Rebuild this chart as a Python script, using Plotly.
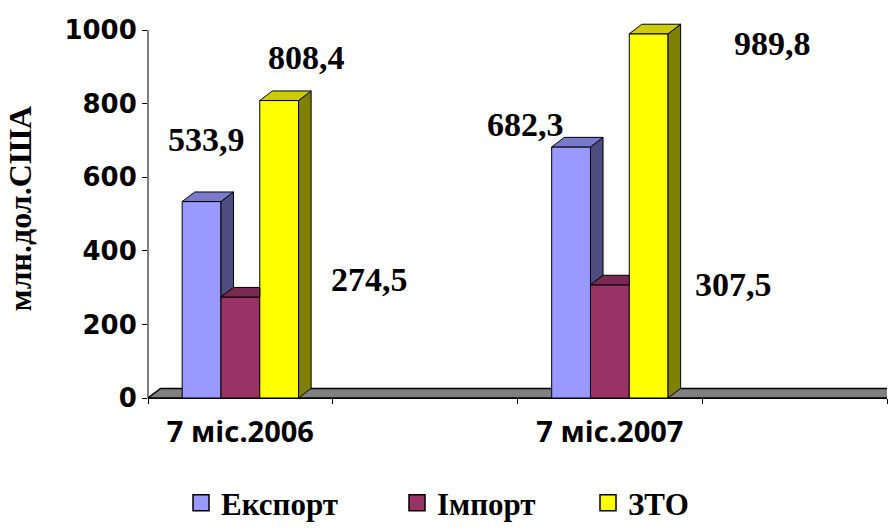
import plotly.graph_objects as go

# ---------------- data ----------------
categories = ["7 міс.2006", "7 міс.2007"]
series_names = ["Експорт", "Імпорт", "ЗТО"]
export_vals = [533.9, 682.3]
import_vals = [274.5, 307.5]
zto_vals = [808.4, 989.8]
label_texts_export = ["533,9", "682,3"]
label_texts_import = ["274,5", "307,5"]
label_texts_zto = ["808,4", "989,8"]
y_tick_vals = [0, 200, 400, 600, 800, 1000]
y_title = "млн.дол.США"

# ---------------- style ----------------
series = [export_vals, import_vals, zto_vals]
label_texts = [label_texts_export, label_texts_import, label_texts_zto]
front_col = ["#9999FF", "#993366", "#FFFF00"]
top_col = ["#7A7ACC", "#7A2952", "#CCCC00"]
side_col = ["#4D4D80", "#4D1A33", "#808000"]
# label shifts in pixels relative to the bar's top-centre
label_shift = [[(5, 62), (-46, 22)],
               [(129, 17), (124, 0)],
               [(27, 43.5), (124, -10)]]

slot = [2 * i for i in range(len(categories))]   # blank slot between groups
bw = 0.21
offsets = [-1.5 * bw, -0.5 * bw, 0.5 * bw]
dx = 0.068   # depth, x data units
dy = 26      # depth, y data units

SERIF = "Liberation Serif, Times New Roman, serif"

fig = go.Figure()

# front faces
for s, vals in enumerate(series):
    fig.add_trace(go.Bar(
        x=slot, y=vals, width=bw, offset=offsets[s],
        marker=dict(color=front_col[s], line=dict(color="black", width=1)),
        showlegend=False, hoverinfo="skip"))

# 3D side and top faces
for c in range(len(categories)):
    for s, vals in enumerate(series):
        v = vals[c]
        L = slot[c] + offsets[s]
        R = L + bw
        nxt = series[s + 1][c] if s + 1 < len(series) else None
        # side face
        if nxt is None or nxt < v:
            b = 0 if nxt is None else nxt
            fig.add_trace(go.Scatter(
                x=[R, R, R + dx, R + dx, R], y=[b, v, v + dy, b + dy, b],
                mode="lines", fill="toself", fillcolor=side_col[s],
                line=dict(color="black", width=1), showlegend=False,
                hoverinfo="skip"))
        # top face
        if nxt is not None and nxt > v:
            tx = [L, R, R, L + dx, L]
            ty = [v, v, v + dy, v + dy, v]
        else:
            tx = [L, R, R + dx, L + dx, L]
            ty = [v, v, v + dy, v + dy, v]
        fig.add_trace(go.Scatter(
            x=tx, y=ty, mode="lines", fill="toself", fillcolor=top_col[s],
            line=dict(color="black", width=1), showlegend=False,
            hoverinfo="skip"))

# legend entries (three separate legends)
legend_names = ["legend", "legend2", "legend3"]
for s, name in enumerate(series_names):
    fig.add_trace(go.Scatter(
        x=[None], y=[None], mode="markers", name="<b>" + name + "</b>",
        marker=dict(symbol="square", size=16, color=front_col[s],
                    line=dict(color="black", width=1.5)),
        legend=legend_names[s], showlegend=True))

# data labels
for s, vals in enumerate(series):
    for c, v in enumerate(vals):
        xs, ys = label_shift[s][c]
        fig.add_annotation(
            x=slot[c] + offsets[s] + bw / 2, y=v, text=label_texts[s][c],
            showarrow=False, xanchor="center", yanchor="middle",
            xshift=xs, yshift=ys,
            font=dict(family=SERIF, size=34, color="black", weight="bold"))

# floor
fig.add_shape(type="path", xref="x", yref="y", layer="below",
              path=f"M -0.5,0 L 3.6,0 L {3.6 + dx},{dy} L {-0.5 + dx},{dy} Z",
              fillcolor="#808080", line=dict(color="black", width=1.5))
# y axis line (0..1000)
fig.add_shape(type="line", xref="paper", yref="y", x0=0, x1=0,
              y0=0, y1=y_tick_vals[-1], line=dict(color="black", width=1))

legend_x = [181, 397, 588]
leg_common = dict(yref="container", xref="container", y=-0.012,
                  xanchor="left", yanchor="bottom", orientation="h",
                  bgcolor="rgba(0,0,0,0)", borderwidth=0,
                  font=dict(family=SERIF, size=31, color="black"))
fig.update_layout(
    width=888, height=530,
    margin=dict(l=148, r=1, t=19, b=132),
    plot_bgcolor="white", paper_bgcolor="white",
    font=dict(family=SERIF, color="black"),
    barmode="overlay",
    legend=dict(x=legend_x[0] / 888, **leg_common),
    legend2=dict(x=legend_x[1] / 888, **leg_common),
    legend3=dict(x=legend_x[2] / 888, **leg_common),
    xaxis=dict(range=[-0.5, 3.5], tickmode="array", tickvals=slot,
               ticktext=categories, ticks="", showline=True,
               linecolor="black", linewidth=1, showgrid=False,
               zeroline=False, fixedrange=True, ticklabelstandoff=8,
               tickfont=dict(family="Noto Sans", size=29, color="black",
                             weight="bold"),
               minor=dict(tickmode="linear", tick0=0.5, dtick=1,
                          ticks="outside", ticklen=5, tickcolor="black",
                          tickwidth=1, showgrid=False)),
    yaxis=dict(range=[0, 1030], tickmode="array", tickvals=y_tick_vals,
               ticks="outside", ticklen=5, tickcolor="black", tickwidth=1,
               showline=False, showgrid=False, zeroline=False,
               fixedrange=True,
               tickfont=dict(family="DejaVu Sans", size=26, color="black",
                             weight="bold"),
               title=dict(text=y_title, standoff=23,
                          font=dict(family=SERIF, size=32, color="black",
                                    weight="bold"))),
)

fig.write_html("out.html", config={"displayModeBar": False},
               post_script="document.body.style.margin='0';")
